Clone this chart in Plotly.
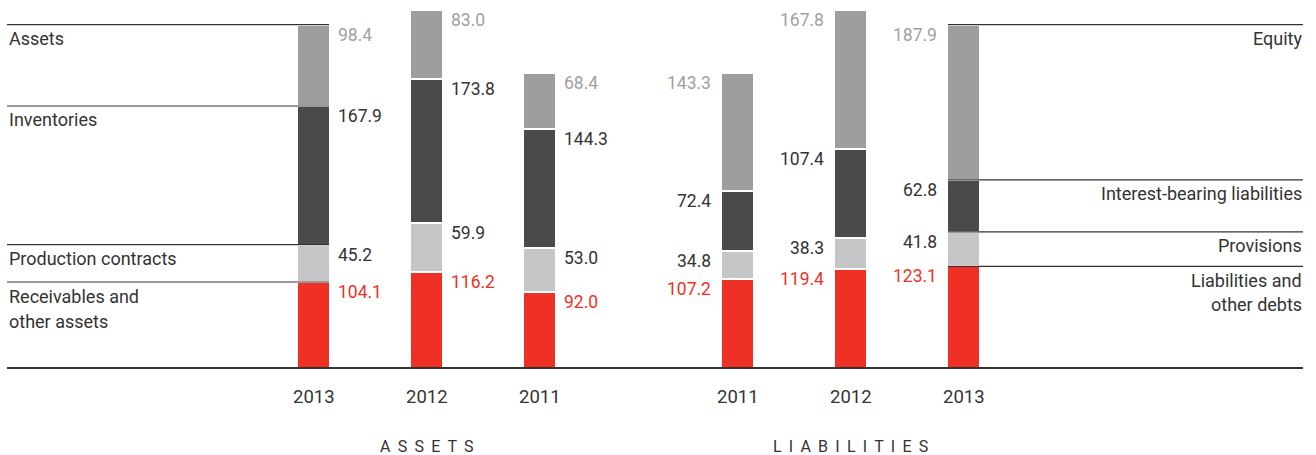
import plotly.graph_objects as go

# ---------------- data ----------------
asset_years = ["2013", "2012", "2011"]
liab_years = ["2011", "2012", "2013"]

asset_segments = ["Receivables and\nother assets", "Production contracts", "Inventories", "Assets"]
receivables = [104.1, 116.2, 92.0]
production_contracts = [45.2, 59.9, 53.0]
inventories = [167.9, 173.8, 144.3]
fixed_assets = [98.4, 83.0, 68.4]

liab_segments = ["Liabilities and\nother debts", "Provisions", "Interest-bearing liabilities", "Equity"]
liabilities_debts = [107.2, 119.4, 123.1]
provisions = [34.8, 38.3, 41.8]
interest_bearing = [72.4, 107.4, 62.8]
equity = [143.3, 167.8, 187.9]

group_titles = ["ASSETS", "LIABILITIES"]

# ---------------- styling ----------------
W, H = 1316, 455
BASE_PX = 368          # pixel row of the zero line
PX_PER_UNIT = 0.826
BAR_W = 31
GAP = 2.5
FONT = "Roboto"
DARK = "#333333"
seg_colors = ["#ee3124", "#c5c6c8", "#4a4a4c", "#9d9ea0"]
val_colors = ["#ee3124", DARK, DARK, "#a0a0a0"]

asset_x = [313.5 + 113 * i for i in range(3)]
liab_x = [737.5 + 113 * i for i in range(3)]

asset_series = [receivables, production_contracts, inventories, fixed_assets]
liab_series = [liabilities_debts, provisions, interest_bearing, equity]

fig = go.Figure()

def add_stack(xs, series, names):
    for k, vals in enumerate(series):
        fig.add_trace(go.Bar(
            x=xs, y=vals, width=BAR_W + GAP,
            marker=dict(color=seg_colors[k], line=dict(color="white", width=GAP)),
            name=names[k].replace("\n", " "), showlegend=False, hoverinfo="skip",
        ))

add_stack(asset_x, asset_series, asset_segments)
add_stack(liab_x, liab_series, liab_segments)

annotations = []
shapes = []

def cum_tops(series, j):
    tops, c = [], 0.0
    for vals in series:
        c += vals[j]
        tops.append(c)
    return tops

font = lambda size, color=DARK: dict(family=FONT, size=size, color=color)

# value labels
for j, x in enumerate(asset_x):
    tops = cum_tops(asset_series, j)
    for k, vals in enumerate(asset_series):
        annotations.append(dict(x=x + BAR_W / 2 + 7, y=tops[k], xref="x", yref="y",
                                text=f"{vals[j]:.1f}", showarrow=False, xanchor="left",
                                yanchor="middle", yshift=-10, font=font(17.5, val_colors[k])))
for j, x in enumerate(liab_x):
    tops = cum_tops(liab_series, j)
    for k, vals in enumerate(liab_series):
        annotations.append(dict(x=x - BAR_W / 2 - 9, y=tops[k], xref="x", yref="y",
                                text=f"{vals[j]:.1f}", showarrow=False, xanchor="right",
                                yanchor="middle", yshift=-10, font=font(17.5, val_colors[k])))

# left segment labels + guide lines (based on first asset bar)
tops = cum_tops(asset_series, 0)
for k, name in enumerate(asset_segments):
    shapes.append(dict(type="line", xref="x", yref="y", x0=7, x1=asset_x[0] + BAR_W / 2,
                       y0=tops[k], y1=tops[k], line=dict(color=DARK, width=1.2), layer="above"))
    for li, line_txt in enumerate(name.split("\n")):
        annotations.append(dict(x=7, y=tops[k], xref="x", yref="y", text=line_txt,
                                showarrow=False, xanchor="left", yanchor="middle",
                                yshift=-14 - 25 * li, font=font(18)))

# right segment labels + guide lines (based on last liabilities bar)
tops = cum_tops(liab_series, 2)
for k, name in enumerate(liab_segments):
    shapes.append(dict(type="line", xref="x", yref="y", x0=liab_x[2] - BAR_W / 2, x1=1303,
                       y0=tops[k], y1=tops[k], line=dict(color=DARK, width=1.2), layer="above"))
    for li, line_txt in enumerate(name.split("\n")):
        annotations.append(dict(x=1304, y=tops[k], xref="x", yref="y", text=line_txt,
                                showarrow=False, xanchor="right", yanchor="middle",
                                yshift=-14 - 24 * li, font=font(18)))

# baseline
shapes.append(dict(type="line", xref="x", yref="y", x0=7, x1=1303, y0=0, y1=0,
                   line=dict(color=DARK, width=1.8), layer="above"))

# year labels
for xs, yrs in ((asset_x, asset_years), (liab_x, liab_years)):
    for x, yr in zip(xs, yrs):
        annotations.append(dict(x=x, y=0, xref="x", yref="y", text=yr, showarrow=False,
                                xanchor="center", yanchor="middle", yshift=-29, font=font(18.5)))

# group titles (letter-spaced)
for xs, title in ((asset_x, group_titles[0]), (liab_x, group_titles[1])):
    annotations.append(dict(x=xs[1], y=0, xref="x", yref="y", text=" \u2009".join(title),
                            showarrow=False, xanchor="center", yanchor="middle", yshift=-78,
                            font=dict(family=FONT, size=16, color=DARK)))

y_top = BASE_PX / PX_PER_UNIT
y_bot = -(H - BASE_PX) / PX_PER_UNIT

fig.update_layout(
    width=W, height=H, barmode="stack", bargap=0,
    margin=dict(l=0, r=0, t=0, b=0),
    paper_bgcolor="white", plot_bgcolor="white",
    xaxis=dict(range=[0, W], visible=False, fixedrange=True),
    yaxis=dict(range=[y_bot, y_top], visible=False, fixedrange=True),
    annotations=annotations, shapes=shapes, showlegend=False,
)

fig.write_html("out.html", config={"displayModeBar": False},
               post_script="document.body.style.margin='0';document.body.style.overflow='hidden';")
